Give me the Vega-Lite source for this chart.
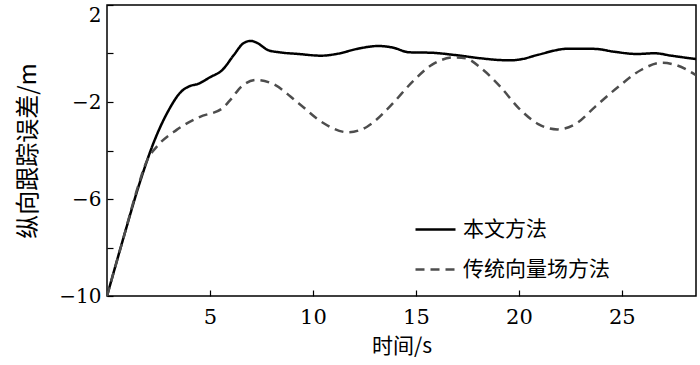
{
  "$schema": "https://vega.github.io/schema/vega-lite/v6.json",
  "autosize": "none",
  "width": 589,
  "height": 291,
  "padding": {"left": 107, "top": 5, "right": 4, "bottom": 69},
  "background": "white",
  "config": {
    "view": {"stroke": "#000", "strokeWidth": 1.5}
  },
  "data": {
    "values": [
      {"m": "本文方法", "t": 0, "e": -10},
      {"m": "本文方法", "t": 0.8, "e": -7.6},
      {"m": "本文方法", "t": 1.6, "e": -5.3},
      {"m": "本文方法", "t": 2.3, "e": -3.6},
      {"m": "本文方法", "t": 3.0, "e": -2.33},
      {"m": "本文方法", "t": 3.57, "e": -1.6},
      {"m": "本文方法", "t": 4.03, "e": -1.34},
      {"m": "本文方法", "t": 4.4, "e": -1.26},
      {"m": "本文方法", "t": 5.0, "e": -0.98},
      {"m": "本文方法", "t": 5.6, "e": -0.68},
      {"m": "本文方法", "t": 6.16, "e": -0.06},
      {"m": "本文方法", "t": 6.62, "e": 0.42},
      {"m": "本文方法", "t": 6.98, "e": 0.52},
      {"m": "本文方法", "t": 7.26, "e": 0.45},
      {"m": "本文方法", "t": 7.82, "e": 0.14},
      {"m": "本文方法", "t": 8.37, "e": 0.05},
      {"m": "本文方法", "t": 9.3, "e": -0.02},
      {"m": "本文方法", "t": 10.4, "e": -0.09},
      {"m": "本文方法", "t": 11.14, "e": -0.02},
      {"m": "本文方法", "t": 12.25, "e": 0.21},
      {"m": "本文方法", "t": 13.18, "e": 0.31},
      {"m": "本文方法", "t": 13.9, "e": 0.24},
      {"m": "本文方法", "t": 14.66, "e": 0.05},
      {"m": "本文方法", "t": 15.77, "e": 0.03},
      {"m": "本文方法", "t": 16.87, "e": -0.06},
      {"m": "本文方法", "t": 18.17, "e": -0.2},
      {"m": "本文方法", "t": 19.1, "e": -0.27},
      {"m": "本文方法", "t": 19.6, "e": -0.28},
      {"m": "本文方法", "t": 20.1, "e": -0.24},
      {"m": "本文方法", "t": 20.94, "e": -0.05},
      {"m": "本文方法", "t": 22.42, "e": 0.2},
      {"m": "本文方法", "t": 23.71, "e": 0.19},
      {"m": "本文方法", "t": 24.64, "e": 0.07},
      {"m": "本文方法", "t": 25.75, "e": -0.02},
      {"m": "本文方法", "t": 26.6, "e": 0.01},
      {"m": "本文方法", "t": 27.4, "e": -0.09},
      {"m": "本文方法", "t": 28.6, "e": -0.23},
      {"m": "传统向量场方法", "t": 0, "e": -10},
      {"m": "传统向量场方法", "t": 0.8, "e": -7.6},
      {"m": "传统向量场方法", "t": 1.5, "e": -5.5},
      {"m": "传统向量场方法", "t": 1.95, "e": -4.4},
      {"m": "传统向量场方法", "t": 2.46, "e": -3.8},
      {"m": "传统向量场方法", "t": 3.38, "e": -3.15},
      {"m": "传统向量场方法", "t": 4.49, "e": -2.62},
      {"m": "传统向量场方法", "t": 5.6, "e": -2.26},
      {"m": "传统向量场方法", "t": 6.0, "e": -1.9},
      {"m": "传统向量场方法", "t": 6.52, "e": -1.37},
      {"m": "传统向量场方法", "t": 7.26, "e": -1.09},
      {"m": "传统向量场方法", "t": 8.0, "e": -1.23},
      {"m": "传统向量场方法", "t": 9.3, "e": -2.05},
      {"m": "传统向量场方法", "t": 10.4, "e": -2.81},
      {"m": "传统向量场方法", "t": 11.7, "e": -3.25},
      {"m": "传统向量场方法", "t": 12.63, "e": -3.02},
      {"m": "传统向量场方法", "t": 13.73, "e": -2.19},
      {"m": "传统向量场方法", "t": 14.84, "e": -1.16},
      {"m": "传统向量场方法", "t": 15.77, "e": -0.47},
      {"m": "传统向量场方法", "t": 16.87, "e": -0.16},
      {"m": "传统向量场方法", "t": 17.43, "e": -0.2},
      {"m": "传统向量场方法", "t": 18.17, "e": -0.61},
      {"m": "传统向量场方法", "t": 19.1, "e": -1.37},
      {"m": "传统向量场方法", "t": 20.0, "e": -2.26},
      {"m": "传统向量场方法", "t": 20.94, "e": -2.91},
      {"m": "传统向量场方法", "t": 21.87, "e": -3.13},
      {"m": "传统向量场方法", "t": 22.8, "e": -2.88},
      {"m": "传统向量场方法", "t": 23.71, "e": -2.19},
      {"m": "传统向量场方法", "t": 24.83, "e": -1.37},
      {"m": "传统向量场方法", "t": 25.93, "e": -0.68},
      {"m": "传统向量场方法", "t": 26.95, "e": -0.38},
      {"m": "传统向量场方法", "t": 27.6, "e": -0.47},
      {"m": "传统向量场方法", "t": 28.6, "e": -0.89}
    ]
  },
  "mark": {"type": "line", "interpolate": "monotone", "strokeWidth": 2.5, "clip": true},
  "encoding": {
    "x": {
      "field": "t", "type": "quantitative",
      "scale": {"domain": [0, 28.6], "nice": false, "zero": false},
      "axis": {
        "title": "时间/s", "titleFont": "Noto Sans CJK SC", "titleFontSize": 21, "titleFontWeight": "normal",
        "titleColor": "#000", "titlePadding": 8,
        "values": [5, 10, 15, 20, 25], "grid": false, "domain": false,
        "tickSize": -6, "tickColor": "#000", "tickWidth": 1.2,
        "labelFontSize": 21, "labelColor": "#000", "labelPadding": 16, "labelFont": "DejaVu Serif"
      }
    },
    "y": {
      "field": "e", "type": "quantitative",
      "scale": {"domain": [-10, 2], "nice": false, "zero": false},
      "axis": {
        "title": "纵向跟踪误差/m", "titleFont": "Noto Sans CJK SC", "titleFontSize": 24, "titleFontWeight": "normal",
        "titleColor": "#000", "titlePadding": 18,
        "values": [-10, -8, -6, -4, -2, 0, 2], "grid": false, "domain": false,
        "labelExpr": "(datum.value % 4 == 2 || datum.value % 4 == -2) ? datum.label : ''",
        "labelBaseline": {"condition": {"test": "datum.value == 2", "value": "top"}, "value": "middle"},
        "tickSize": -6, "tickColor": "#000", "tickWidth": 1.2,
        "labelFontSize": 20, "labelColor": "#000", "labelPadding": 12, "labelFont": "DejaVu Serif"
      }
    },
    "color": {
      "field": "m", "type": "nominal",
      "scale": {"domain": ["本文方法", "传统向量场方法"], "range": ["#000000", "#4d4d4d"]},
      "legend": {
        "title": null, "orient": "none", "legendX": 307, "legendY": 203,
        "symbolType": "stroke", "symbolSize": 1600, "symbolStrokeWidth": 2.5,
        "labelFont": "Noto Sans CJK SC", "labelFontSize": 21, "labelColor": "#000",
        "labelOffset": 6, "rowPadding": 8
      }
    },
    "strokeDash": {
      "field": "m", "type": "nominal",
      "scale": {"domain": ["本文方法", "传统向量场方法"], "range": [[1, 0], [9, 6]]},
      "legend": null
    }
  }
}
